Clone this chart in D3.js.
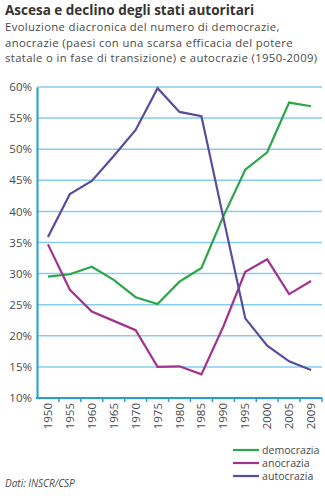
<!DOCTYPE html>
<html>
<head>
<meta charset="utf-8">
<script src="https://cdn.jsdelivr.net/npm/d3@7"></script>
<style>
  html, body { margin: 0; padding: 0; background: #fff; }
  svg { display: block; font-family: "Open Sans", "Noto Sans", sans-serif; }
</style>
</head>
<body>
<svg id="chart" width="325" height="500"></svg>
<script>
// Years on the horizontal axis (evenly spaced categories)
const years = ["1950","1955","1960","1965","1970","1975","1980","1985","1990","1995","2000","2005","2009"];

// Share of states by regime type, percent
const democrazia = [29.5, 29.9, 31.1, 29.0, 26.2, 25.1, 28.7, 30.9, 39.2, 46.7, 49.5, 57.5, 56.9];
const anocrazia  = [34.7, 27.4, 23.9, 22.4, 20.9, 15.0, 15.1, 13.8, 21.5, 30.3, 32.3, 26.7, 28.8];
const autocrazia = [35.9, 42.8, 44.9, 48.9, 53.1, 59.8, 56.0, 55.3, 39.0, 22.8, 18.4, 15.9, 14.5];

const yTicks = [10, 15, 20, 25, 30, 35, 40, 45, 50, 55, 60];

const seriesNames  = ["democrazia", "anocrazia", "autocrazia"];
const seriesValues = [democrazia, anocrazia, autocrazia];
const seriesColors = ["#2aa64b", "#a2318f", "#5a4b9e"];

const svg = d3.select("#chart");
const textColor = "#4a4a4a";

// Heading
svg.append("text").attr("x", 5).attr("y", 14.8)
  .attr("font-size", 13.5).attr("font-weight", 700).attr("fill", "#333")
  .text("Ascesa e declino degli stati autoritari");
const sub = [
  "Evoluzione diacronica del numero di democrazie,",
  "anocrazie (paesi con una scarsa efficacia del potere",
  "statale o in fase di transizione) e autocrazie (1950-2009)"
];
sub.forEach((t, i) => {
  svg.append("text").attr("x", 5).attr("y", 31 + i * 15.5)
    .attr("font-size", 11.3).attr("letter-spacing", 0.36)
    .attr("fill", textColor).text(t);
});

// Plot area
const plotLeft = 37, plotRight = 322, plotTop = 87, plotBottom = 398;

const x = d3.scaleBand().domain(years).range([plotLeft, plotRight]);
const y = d3.scaleLinear().domain([10, 60]).range([plotBottom, plotTop]);

// Horizontal grid
svg.append("g").selectAll("line").data(yTicks.filter(d => d > 10)).join("line")
  .attr("x1", plotLeft).attr("x2", plotRight)
  .attr("y1", d => y(d)).attr("y2", d => y(d))
  .attr("stroke", "#86cdee").attr("stroke-width", 1.5);

// Y axis
const yAxis = svg.append("g").attr("transform", `translate(${plotLeft},0)`)
  .call(d3.axisLeft(y).tickValues(yTicks).tickSize(0).tickPadding(5).tickFormat(d => d + "%"));
yAxis.select(".domain").attr("stroke", "#1ea0d6").attr("stroke-width", 2);
yAxis.selectAll("text").attr("font-size", 11.5).attr("fill", textColor)
  .attr("font-family", "'Open Sans', sans-serif");

// X axis: ticks at band boundaries, labels rotated
const xg = svg.append("g").attr("transform", `translate(0,${plotBottom})`);
xg.append("line").attr("x1", plotLeft - 1).attr("x2", plotRight)
  .attr("stroke", "#1ea0d6").attr("stroke-width", 2);
xg.selectAll("line.tick").data(years).join("line")
  .attr("class", "tick")
  .attr("x1", d => x(d) + x.bandwidth())
  .attr("x2", d => x(d) + x.bandwidth())
  .attr("y1", 0).attr("y2", 4)
  .attr("stroke", "#1ea0d6").attr("stroke-width", 1.5);
xg.selectAll("text").data(years).join("text")
  .attr("transform", d => `translate(${x(d) + x.bandwidth() / 2 + 4},5) rotate(-90)`)
  .attr("text-anchor", "end")
  .attr("font-size", 11.5).attr("fill", textColor)
  .text(d => d);

// Lines
const line = d3.line()
  .x((d, i) => x(years[i]) + x.bandwidth() / 2)
  .y(d => y(d));
seriesValues.forEach((vals, k) => {
  svg.append("path").datum(vals)
    .attr("d", line)
    .attr("fill", "none")
    .attr("stroke", seriesColors[k])
    .attr("stroke-width", 2.2)
    .attr("stroke-linejoin", "miter");
});

// Legend
const lg = svg.append("g");
seriesNames.forEach((name, k) => {
  const ly = 450 + k * 13;
  lg.append("line").attr("x1", 233).attr("x2", 259).attr("y1", ly).attr("y2", ly)
    .attr("stroke", seriesColors[k]).attr("stroke-width", 2.2);
  lg.append("text").attr("x", 262).attr("y", ly + 3.6)
    .attr("font-size", 10.6).attr("fill", textColor).text(name);
});

// Source
svg.append("text").attr("x", 5).attr("y", 487)
  .attr("font-size", 10).attr("font-style", "italic").attr("fill", textColor)
  .text("Dati: INSCR/CSP");
</script>
</body>
</html>
